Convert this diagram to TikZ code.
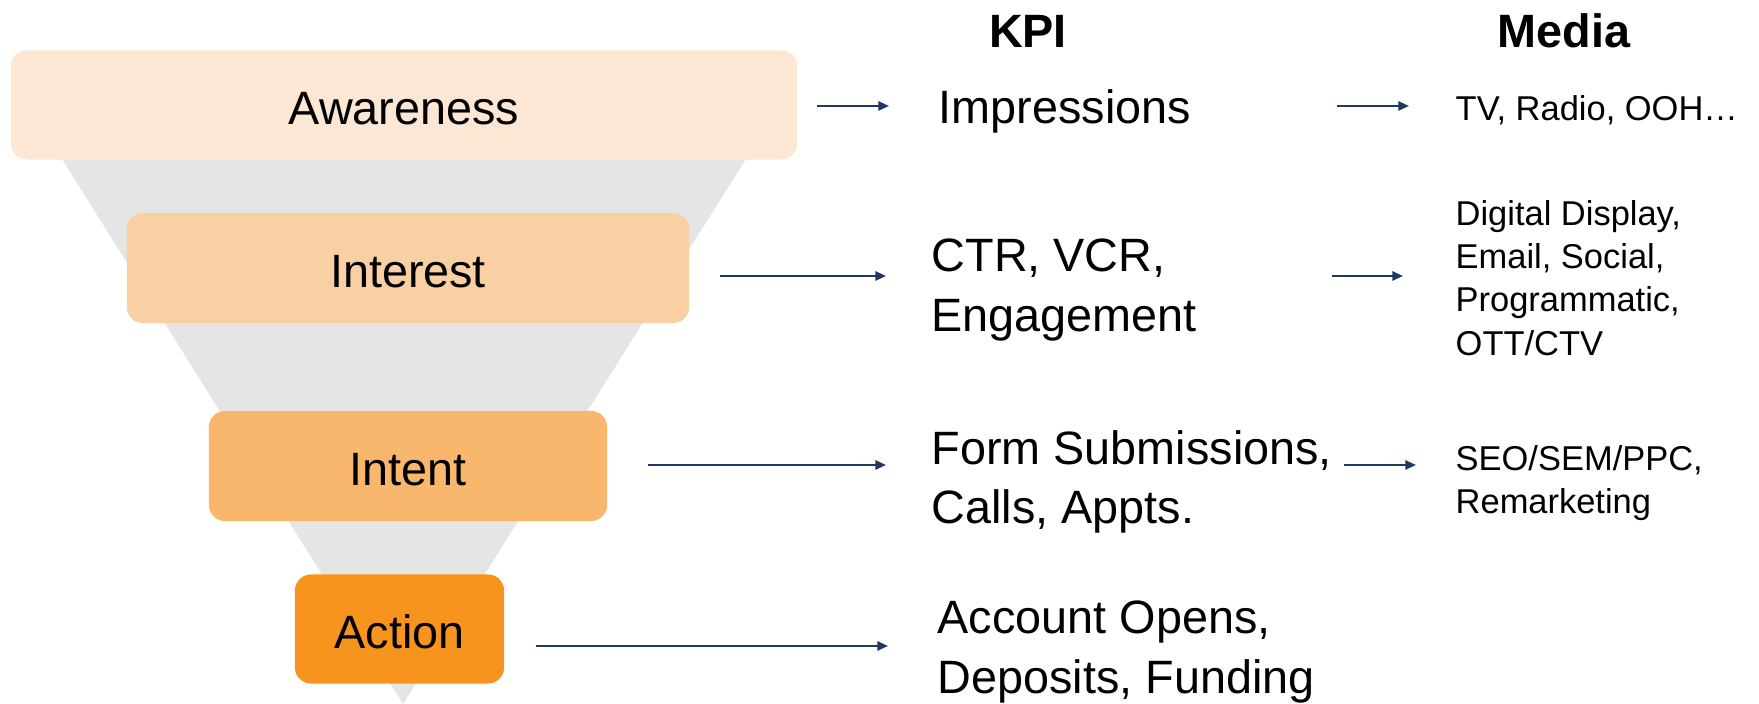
\documentclass[tikz,border=0pt]{standalone}
\usepackage{fontspec}
\setmainfont{Liberation Sans}
\usepackage{tikz}
\usetikzlibrary{positioning,arrows.meta}
\usepackage{xcolor}
\definecolor{awareC}{HTML}{FCE7D5}
\definecolor{interestC}{HTML}{F9D0A3}
\definecolor{intentC}{HTML}{F8B76D}
\definecolor{actionC}{HTML}{F7941D}
\definecolor{funnelC}{HTML}{E5E5E5}
\definecolor{arrowC}{HTML}{1F3864}

\begin{document}
\begin{tikzpicture}[
    x=0.01cm, y=-0.01cm,
    stage/.style={rounded corners=0.16cm, inner sep=0pt, text height=10.9pt, text depth=0pt,
      font=\fontsize{13.3}{16}\selectfont},
    kpi/.style={anchor=west, align=left, inner sep=0pt, font=\fontsize{13.3}{16.8}\selectfont},
    media/.style={anchor=west, align=left, inner sep=0pt, font=\fontsize{9.8}{12.3}\selectfont},
    head/.style={inner sep=0pt, font=\fontsize{13.3}{16}\selectfont\bfseries},
    link/.style={-{Triangle[length=3pt,width=2.6pt]}, draw=arrowC, line width=0.6pt}
]
  \useasboundingbox (0,0) rectangle (1759,704);

  % --- FUNNEL ---
  \fill[funnelC] (62,159) -- (746,159) -- (403,704) -- cycle;

  % --- STAGES ---
  \node[stage, fill=awareC, minimum width=7.86cm, minimum height=1.09cm] (aware) at (404,105) {Awareness};
  \node[stage, fill=interestC, minimum width=5.62cm, minimum height=1.10cm] (interest) at (408,268) {Interest};
  \node[stage, fill=intentC, minimum width=3.98cm, minimum height=1.10cm] (intent) at (408,466) {Intent};
  \node[stage, fill=actionC, minimum width=2.09cm, minimum height=1.09cm] (action) at (399.5,629) {Action};

  % --- HEADERS ---
  \node[head] (kpihead) at (1028,31) {KPI};
  \node[head] (mediahead) at (1564,31) {Media};

  % --- KPI COLUMN ---
  \node[kpi] (impr) at (938,111) {Impressions};
  \node[kpi] (ctr) at (931,290) {CTR, VCR,\\Engagement};
  \node[kpi] (form) at (931,482) {Form Submissions,\\Calls, Appts.};
  \node[kpi] (acct) at (937,652) {Account Opens,\\Deposits, Funding};

  % --- MEDIA COLUMN ---
  \node[media] (tv) at (1455,110) {TV, Radio, OOH…};
  \node[media] (digital) at (1455,278) {Digital Display,\\Email, Social,\\Programmatic,\\OTT/CTV};
  \node[media] (seo) at (1455,483) {SEO/SEM/PPC,\\Remarketing};

  % --- ARROW ENDS ---
  \coordinate (a1) at (817,106);  \coordinate (k1) at (889,106);
  \coordinate (a2) at (720,276);  \coordinate (k2) at (886,276);
  \coordinate (a3) at (648,465);  \coordinate (k3) at (886,465);
  \coordinate (a4) at (536,646);  \coordinate (k4) at (888,646);
  \coordinate (b1) at (1337,106); \coordinate (m1) at (1409,106);
  \coordinate (b2) at (1332,276); \coordinate (m2) at (1403,276);
  \coordinate (b3) at (1344,465); \coordinate (m3) at (1416,465);

  % --- DRAWING ARROWS ---
  \draw[link] (a1) -- (k1);
  \draw[link] (a2) -- (k2);
  \draw[link] (a3) -- (k3);
  \draw[link] (a4) -- (k4);
  \draw[link] (b1) -- (m1);
  \draw[link] (b2) -- (m2);
  \draw[link] (b3) -- (m3);
\end{tikzpicture}
\end{document}
